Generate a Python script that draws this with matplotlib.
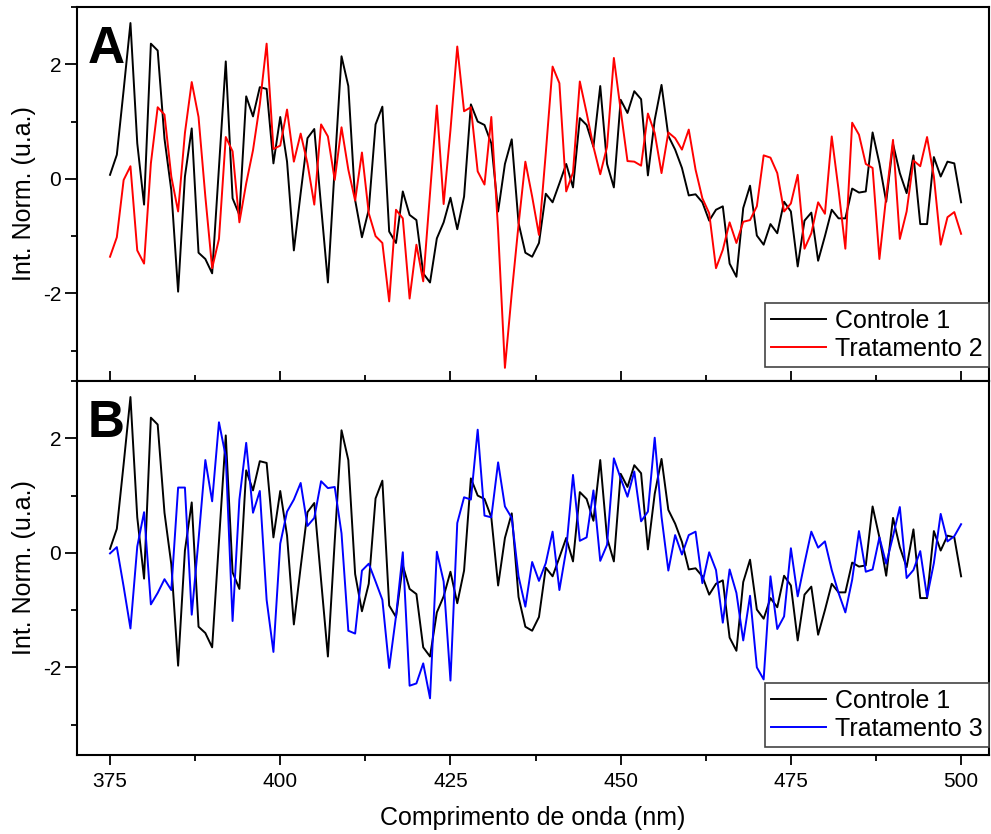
import matplotlib as mpl
import matplotlib.pyplot as plt
import numpy as np
from matplotlib.ticker import MultipleLocator

mpl.use("Agg")

plt.rcParams["font.family"] = ["Liberation Sans", "DejaVu Sans"]
plt.rcParams["axes.unicode_minus"] = False

# wavelength axis (nm), one point per nm
wavelength = np.arange(375, 501)

controle_1 = [
    0.07, 0.42, 1.55, 2.72, 0.62, -0.45, 2.36, 2.24, 0.70, -0.20,
    -1.97, 0.04, 0.88, -1.29, -1.40, -1.65, 0.20, 2.05, -0.34, -0.63,
    1.44, 1.09, 1.60, 1.57, 0.27, 1.08, 0.30, -1.25, -0.25, 0.71,
    0.87, -0.48, -1.81, 0.20, 2.14, 1.62, -0.37, -1.02, -0.54, 0.95,
    1.26, -0.92, -1.12, -0.22, -0.63, -0.72, -1.65, -1.81, -1.04, -0.76,
    -0.33, -0.88, -0.31, 1.30, 1.00, 0.94, 0.62, -0.57, 0.26, 0.69,
    -0.77, -1.29, -1.36, -1.12, -0.26, -0.41, -0.08, 0.26, -0.15, 1.06,
    0.94, 0.56, 1.62, 0.26, -0.15, 1.38, 1.15, 1.53, 1.39, 0.06,
    1.03, 1.64, 0.75, 0.51, 0.19, -0.29, -0.27, -0.41, -0.73, -0.54,
    -0.48, -1.48, -1.71, -0.51, -0.12, -0.99, -1.15, -0.79, -0.95, -0.40,
    -0.57, -1.53, -0.73, -0.59, -1.43, -1.00, -0.54, -0.69, -0.69, -0.17,
    -0.24, -0.22, 0.81, 0.27, -0.40, 0.61, 0.10, -0.25, 0.41, -0.79,
    -0.79, 0.38, 0.04, 0.30, 0.27, -0.41,
]

tratamento_2 = [
    -1.36, -1.02, -0.02, 0.22, -1.25, -1.48, 0.27, 1.25, 1.12, 0.04,
    -0.57, 0.80, 1.69, 1.08, -0.31, -1.56, -1.05, 0.73, 0.48, -0.76,
    -0.08, 0.50, 1.30, 2.36, 0.52, 0.58, 1.21, 0.30, 0.79, 0.27,
    -0.45, 0.95, 0.74, -0.02, 0.90, 0.16, -0.38, 0.46, -0.60, -1.00,
    -1.12, -2.14, -0.54, -0.69, -2.09, -1.15, -1.79, -0.25, 1.28, -0.44,
    0.85, 2.31, 1.18, 1.25, 0.13, -0.10, 1.08, -0.90, -3.30, -2.00,
    -0.80, 0.30, -0.31, -0.98, 0.45, 1.96, 1.67, -0.22, 0.11, 1.70,
    1.15, 0.56, 0.08, 0.56, 2.11, 1.20, 0.31, 0.30, 0.23, 1.14,
    0.80, 0.10, 0.81, 0.71, 0.51, 0.86, 0.16, -0.34, -0.60, -1.56,
    -1.24, -0.76, -1.12, -0.75, -0.72, -0.48, 0.41, 0.37, 0.10, -0.57,
    -0.43, 0.07, -1.22, -0.95, -0.41, -0.61, 0.74, -0.19, -1.22, 0.98,
    0.77, 0.26, 0.19, -1.40, -0.31, 0.68, -1.05, -0.57, 0.32, 0.22,
    0.73, 0.04, -1.15, -0.67, -0.58, -0.96,
]

tratamento_3 = [
    -0.01, 0.10, -0.59, -1.32, 0.11, 0.71, -0.90, -0.70, -0.46, -0.65,
    1.14, 1.14, -1.08, 0.23, 1.62, 0.90, 2.28, 1.68, -1.19, 0.93,
    1.92, 0.70, 1.08, -0.82, -1.73, 0.16, 0.72, 0.93, 1.22, 0.47,
    0.61, 1.25, 1.13, 1.15, 0.34, -1.36, -1.41, -0.31, -0.19, -0.50,
    -0.82, -2.01, -1.11, 0.01, -2.32, -2.28, -1.93, -2.54, 0.02, -0.50,
    -2.23, 0.52, 0.97, 0.93, 2.15, 0.65, 0.62, 1.58, 0.81, 0.61,
    -0.41, -0.94, -0.16, -0.49, -0.18, 0.37, -0.65, 0.05, 1.36, 0.21,
    0.27, 1.09, -0.14, 0.14, 1.65, 1.30, 0.98, 1.42, 0.55, 0.72,
    2.01, 0.63, -0.31, 0.31, -0.03, 0.31, 0.37, -0.53, 0.01, -0.30,
    -1.22, -0.29, -0.70, -1.53, -0.75, -2.00, -2.21, -0.41, -1.33, -1.11,
    0.08, -0.76, -0.18, 0.37, 0.09, 0.20, -0.30, -0.70, -1.04, -0.47,
    0.38, -0.33, -0.29, 0.27, -0.19, 0.29, 0.80, -0.44, -0.30, 0.03,
    -0.77, -0.18, 0.68, 0.20, 0.29, 0.50,
]

panels = [
    ("A", tratamento_2, "Tratamento 2", "#ff0000", 14 / 374),
    ("B", tratamento_3, "Tratamento 3", "#0000ff", 8 / 374),
]

fig, axs = plt.subplots(2, 1, figsize=(9.91, 8.34), dpi=100, sharex=True)
fig.subplots_adjust(left=0.0777, right=0.998, top=0.9916, bottom=0.0947, hspace=0)

for i, (letter, trat, trat_label, color, leg_y) in enumerate(panels):
    ax = axs[i]
    ax.plot(wavelength, controle_1, color="black", lw=1.4, label="Controle 1")
    ax.plot(wavelength, trat, color=color, lw=1.4, label=trat_label)

    ax.set_xlim(370.15, 504.1)
    ax.set_ylim(-3.53, 3.0)
    ax.xaxis.set_major_locator(MultipleLocator(25))
    ax.xaxis.set_minor_locator(MultipleLocator(12.5))
    ax.yaxis.set_major_locator(MultipleLocator(2))
    ax.yaxis.set_minor_locator(MultipleLocator(1))

    for sp in ax.spines.values():
        sp.set_linewidth(1.5)

    ax.tick_params(axis="y", which="major", direction="out", length=8.5, width=1.3,
                   labelsize=15, pad=3)
    ax.tick_params(axis="y", which="minor", direction="out", length=4.5, width=1.3)
    if i == 0:
        ax.tick_params(axis="x", which="major", direction="in", length=7, width=1.3,
                       labelbottom=False)
        ax.tick_params(axis="x", which="minor", direction="in", length=4, width=1.3)
    else:
        ax.tick_params(axis="x", which="major", direction="out", length=7, width=1.3,
                       labelsize=15, pad=5)
        ax.tick_params(axis="x", which="minor", direction="out", length=4, width=1.3)

    ax.set_ylabel("Int. Norm. (u.a.)", fontsize=18, labelpad=5)
    ax.text(0.012, 0.85, letter, transform=ax.transAxes, fontsize=37,
            fontweight="bold", va="baseline", ha="left")

    leg = ax.legend(loc="lower right", bbox_to_anchor=(1.0, leg_y), borderaxespad=0,
                    fontsize=18, fancybox=False, framealpha=1, edgecolor="#444444",
                    handlelength=2.2, handletextpad=0.35, labelspacing=0.15,
                    borderpad=0.25)
    leg.get_frame().set_linewidth(1.2)

axs[1].set_xlabel("Comprimento de onda (nm)", fontsize=18, labelpad=11)

fig.savefig("out.png", dpi=100)
